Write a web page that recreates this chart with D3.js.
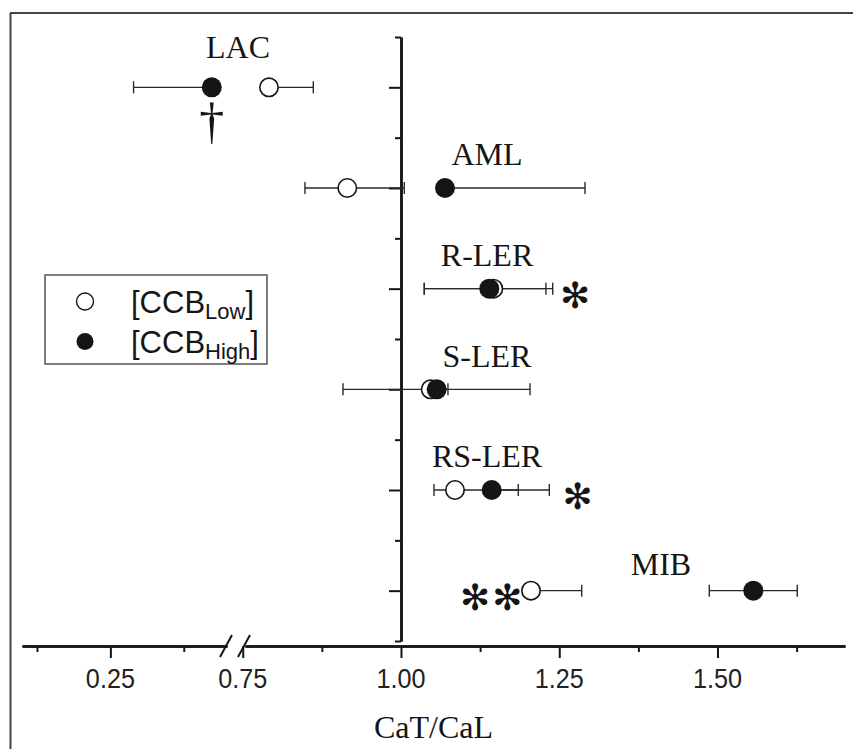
<!DOCTYPE html>
<html><head><meta charset="utf-8">
<script src="https://cdn.jsdelivr.net/npm/d3@7"></script>
<style>html,body{margin:0;padding:0;background:#fff;}svg{display:block;}</style>
</head><body>
<script>
// ---------- data ----------
const categories = ["LAC", "AML", "R-LER", "S-LER", "RS-LER", "MIB"];
// [CCB Low] (open circles)
const lowValues = [0.7915, 0.9152, 1.1458, 1.0469, 1.0853, 1.2054];
const lowErrLo  = [0.7915, 0.8483, 1.0368, 0.9084, 1.0521, 1.2054];
const lowErrHi  = [0.8615, 1.0052, 1.2397, 1.0742, 1.1853, 1.2855];
// [CCB High] (filled circles)
const highValues = [0.4227, 1.0695, 1.1395, 1.0564, 1.1433, 1.5566];
const highErrLo  = [0.2895, 1.0695, 1.0368, 1.0564, 1.1433, 1.4870];
const highErrHi  = [0.4227, 1.2907, 1.2290, 1.2038, 1.2343, 1.6260];
// significance marks
const asteriskCats = ["R-LER", "RS-LER", "MIB", "MIB"];
const asteriskX    = [1.2749, 1.2791, 1.1169, 1.1679];
const daggerCat = "LAC";
// category label x (data units)
const labelX = [0.7425, 1.1359, 1.1359, 1.1359, 1.1359, 1.4107];
// x axis ticks
const leftMajor = [0.25], leftMinor = [0.125, 0.375];
const rightMajor = [0.75, 1.00, 1.25, 1.50];
const rightMinor = [0.875, 1.125, 1.375, 1.625];
const leftExtent = [0.0995, 0.4486], rightExtent = [0.7536, 1.7014];
const xTitle = "CaT/CaL";
const legendLabels = [["[CCB", "Low", "]"], ["[CCB", "High", "]"]];

// ---------- layout ----------
const W = 853, H = 749;
const axisY = 646, yAxisTop = 37, yAxisBottom = 641;
const svg = d3.select("body").append("svg").attr("width", W).attr("height", H);
const ink = "#151515";

const xL = d3.scaleLinear().domain(leftExtent).range([22, 227]);
const xR = d3.scaleLinear().domain(rightExtent).range([245, 845]);
const breakVal = 0.6;
const x = v => v < breakVal ? xL(v) : xR(v);
const yIdx = d3.scaleLinear().domain([0.5, categories.length + 0.5]).range([yAxisTop, yAxisBottom]);
const y = c => yIdx(categories.indexOf(c) + 1);

// frame (top + left)
svg.append("line").attr("x1", 10).attr("x2", W).attr("y1", 13).attr("y2", 13)
  .attr("stroke", "#444").attr("stroke-width", 2);
svg.append("line").attr("x1", 10.5).attr("x2", 10.5).attr("y1", 13).attr("y2", H)
  .attr("stroke", "#444").attr("stroke-width", 2);

// x axes
function drawX(scale, major, minor) {
  const gMaj = svg.append("g").attr("transform", `translate(0,${axisY})`)
    .call(d3.axisBottom(scale).tickValues(major).tickSize(12).tickSizeOuter(0).tickFormat(""));
  const gMin = svg.append("g").attr("transform", `translate(0,${axisY})`)
    .call(d3.axisBottom(scale).tickValues(minor).tickSize(6).tickSizeOuter(0).tickFormat(""));
  [gMaj, gMin].forEach(g => {
    g.select(".domain").attr("stroke", ink).attr("stroke-width", 2.5);
    g.selectAll(".tick line").attr("stroke", ink).attr("stroke-width", 2);
  });
  major.forEach(v => {
    svg.append("text").attr("transform", `translate(${scale(v)},688) scale(0.9,1)`)
      .attr("text-anchor", "middle").attr("font-family", "Liberation Sans, Arial, sans-serif")
      .attr("font-size", 28).attr("fill", "#222").text(d3.format(".2f")(v));
  });
}
drawX(xL, leftMajor, leftMinor);
drawX(xR, rightMajor, rightMinor);

// break marks
[xL.range()[1] - 1, xR.range()[0] - 1].forEach(bx => {
  svg.append("line").attr("x1", bx - 6).attr("y1", axisY + 11).attr("x2", bx + 6).attr("y2", axisY - 11)
    .attr("stroke", ink).attr("stroke-width", 2);
});

// y axis at x = 1.00
const yAxisX = xR(1.0);
const gy1 = svg.append("g").attr("transform", `translate(${yAxisX},0)`)
  .call(d3.axisLeft(yIdx).tickValues(d3.range(1, categories.length + 1)).tickSize(12).tickSizeOuter(0).tickFormat(""));
const gy2 = svg.append("g").attr("transform", `translate(${yAxisX},0)`)
  .call(d3.axisLeft(yIdx).tickValues(d3.range(0.5, categories.length + 1, 1)).tickSize(6).tickSizeOuter(0).tickFormat(""));
[gy1, gy2].forEach(g => {
  g.select(".domain").attr("stroke", ink).attr("stroke-width", 2.5);
  g.selectAll(".tick line").attr("stroke", ink).attr("stroke-width", 2);
});

// error bars
function errBars(lo, hi, vals) {
  categories.forEach((c, i) => {
    const cy = y(c);
    svg.append("line").attr("x1", x(lo[i])).attr("x2", x(hi[i])).attr("y1", cy).attr("y2", cy)
      .attr("stroke", "#2a2a2a").attr("stroke-width", 1.4);
    [lo[i], hi[i]].forEach(e => {
      if (e !== vals[i]) svg.append("line").attr("x1", x(e)).attr("x2", x(e)).attr("y1", cy - 6).attr("y2", cy + 6)
        .attr("stroke", "#2a2a2a").attr("stroke-width", 1.4);
    });
  });
}
errBars(lowErrLo, lowErrHi, lowValues);
errBars(highErrLo, highErrHi, highValues);

// points
svg.append("g").selectAll("circle").data(categories).join("circle")
  .attr("cx", (c, i) => x(lowValues[i])).attr("cy", c => y(c)).attr("r", 9.2)
  .attr("fill", "#fff").attr("stroke", ink).attr("stroke-width", 1.6);
svg.append("g").selectAll("circle").data(categories).join("circle")
  .attr("cx", (c, i) => x(highValues[i])).attr("cy", c => y(c)).attr("r", 10)
  .attr("fill", ink);

// category labels
const labelDy = [-29, -23, -23, -22, -23, -16];
categories.forEach((c, i) => {
  svg.append("text").attr("x", xR(labelX[i])).attr("y", y(c) + labelDy[i])
    .attr("text-anchor", "middle").attr("font-family", "Liberation Serif, Times New Roman, serif")
    .attr("font-size", 32).attr("fill", ink).text(c);
});

// asterisks
asteriskCats.forEach((c, i) => {
  svg.append("text").attr("x", x(asteriskX[i])).attr("y", y(c) + 19)
    .attr("text-anchor", "middle").attr("font-family", "DejaVu Sans, sans-serif")
    .attr("font-size", 36).attr("fill", ink).text("\u273B");
});
// dagger
const di = categories.indexOf(daggerCat);
svg.append("text").attr("x", x(highValues[di])).attr("y", y(daggerCat) + 51)
  .attr("text-anchor", "middle").attr("font-family", "Liberation Serif, Times New Roman, serif")
  .attr("font-size", 50).attr("fill", ink).text("\u2020");

// x title
svg.append("text").attr("x", (xL.range()[0] + xR.range()[1]) / 2).attr("y", 738)
  .attr("text-anchor", "middle").attr("font-family", "Liberation Serif, Times New Roman, serif")
  .attr("font-size", 32).attr("fill", ink).text(xTitle);

// legend
const lg = svg.append("g");
lg.append("rect").attr("x", 45).attr("y", 275).attr("width", 222).attr("height", 89)
  .attr("fill", "#fff").attr("stroke", "#555").attr("stroke-width", 1.5);
const rows = [312.5, 352.5];
legendLabels.forEach((lab, i) => {
  const cy = rows[i] - 11;
  lg.append("circle").attr("cx", 85).attr("cy", cy).attr("r", 8.5)
    .attr("fill", i === 0 ? "#fff" : ink).attr("stroke", ink).attr("stroke-width", i === 0 ? 1.4 : 0);
  const t = lg.append("text").attr("x", 131).attr("y", rows[i])
    .attr("font-family", "Liberation Sans, Arial, sans-serif").attr("font-size", 31).attr("fill", ink);
  t.append("tspan").text(lab[0]);
  t.append("tspan").attr("font-size", 22).attr("dy", 6).text(lab[1]);
  t.append("tspan").attr("dy", -6).text(lab[2]);
});
</script>
</body></html>
